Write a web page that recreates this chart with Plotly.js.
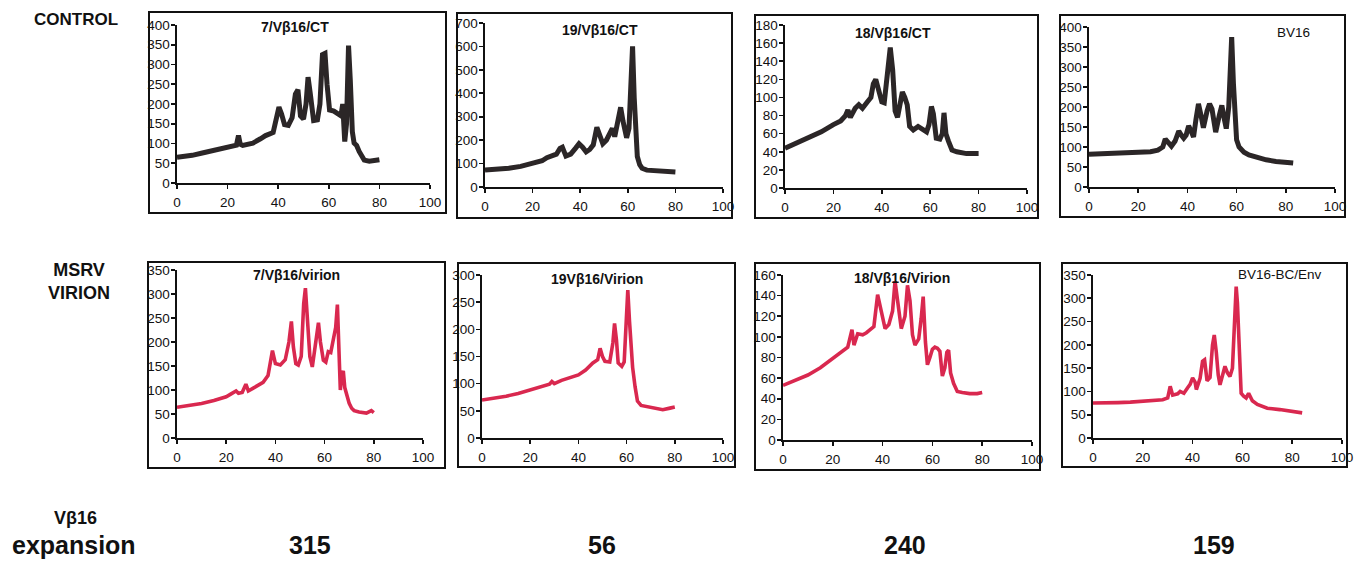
<!DOCTYPE html>
<html><head><meta charset="utf-8">
<script src="https://cdn.plot.ly/plotly-3.0.1.min.js"></script>
<style>html,body{margin:0;padding:0;background:#fff}#chart{width:1356px;height:562px}</style>
</head><body><div id="chart"></div>
<script>
// ---- Data ----
const ct7X = [0,3,6,10,14,18,20,22,23.5,24.3,25,26,28,30,33,35,38,39.3,40.3,41.3,42.5,44,45.5,46.8,47.8,48.8,50,51,51.8,52.6,54,55.5,56.5,57.5,58.5,59.3,60.3,62,63.5,64.8,65.5,66.3,67,67.8,68.5,69.3,70,71,72,73,74,76,78,80];
const ct7Y = [65,67,70,76,82,88,92,93,96,120,98,95,97,101,112,120,128,160,192,175,148,146,165,225,236,170,162,200,268,230,158,160,200,325,328,250,185,182,176,170,200,105,150,348,260,130,101,95,80,65,58,55,57,59];

const ct19X = [0,5,10,15,20,24,26,28,30,31.5,32.5,34,36,38,39.5,41,42.5,44,45.5,47,48,49.5,51,52.5,53.5,54.5,56,57,58,59.5,60.5,61.3,62,62.7,63.3,64,65,66,68,70,75,80];
const ct19Y = [72,74,80,88,100,112,125,130,140,165,170,132,140,165,185,170,150,160,180,255,230,185,200,225,250,215,290,340,280,210,250,520,600,380,240,130,95,80,72,70,65,64];

const ct18X = [0,5,10,15,20,23,25,26,27,29,30.5,32,34,35.5,36.5,37.5,38.5,40,41,42.5,43.5,44.5,45.5,46.5,47.5,48.5,49.5,50.5,51.5,53,55,57,58.5,59.5,60.5,61.3,62.5,64,65,65.7,66.5,67.5,69,71,75,80];
const ct18Y = [44,50,55,62,70,74,80,86,78,88,92,88,95,100,115,120,110,95,94,125,155,130,85,78,95,106,100,92,68,64,68,64,62,70,90,82,55,54,60,83,60,52,42,40,38,38];

const ctBVX = [0,5,10,15,20,25,28,30,31,32,33.5,35,36.5,37.5,38.5,39.5,40.5,41.5,42.5,43.5,44.5,45.5,46.5,48,49,50,51.5,53,54,55,55.8,56.8,57.5,58,58.7,59.3,60,61,63,65,68,72,76,80,83];
const ctBVY = [82,83,83,84,84,88,92,100,120,112,102,115,140,130,122,130,153,140,125,170,208,180,148,190,208,195,137,180,204,170,146,200,300,375,260,190,118,100,87,80,74,68,64,62,60];

const vi7X = [0,5,10,15,20,22,24,25,26.5,28,29,31,33,35,37,38,38.8,40,42,44,45.5,46.5,47.3,48.3,49.3,50.5,51.5,52.2,53,54,55,56.5,57.5,58.3,59.5,60.5,61.5,62.5,63.5,64.5,65.2,65.8,66.4,67,67.6,68.2,68.8,70,71,72,74,77,79,80];
const vi7Y = [64,68,72,78,86,92,98,93,95,112,98,104,110,116,130,165,182,155,152,163,200,243,190,155,152,170,280,312,240,170,148,205,240,200,162,158,180,178,200,230,278,200,100,130,140,105,95,72,62,57,54,52,57,53];

const vi19X = [0,5,10,15,20,25,28,29,30,33,36,40,43,46,48,49,50,51,53,54.3,55,55.8,56.5,58,59,59.8,60.5,61.2,61.8,62.5,63.5,64.5,66,70,75,78,80];
const vi19Y = [70,73,77,82,89,95,99,104,100,106,110,116,125,138,144,165,150,141,140,175,211,180,138,132,140,210,272,215,160,130,95,68,60,57,52,55,57];

const vi18X = [0,5,10,15,20,24,26,27,27.7,28.5,30,32,33.5,35,36.5,38,39.5,41,42.5,44,45,46,47.5,49,50,51,52,53,54.5,55.5,56.3,57.2,58,59,60,61,62,63,64,65,65.8,66.5,67.3,68.5,70,72,75,78,80];
const vi18Y = [53,58,63,70,79,87,90,100,107,92,103,102,104,107,110,141,125,108,112,125,154,135,108,120,150,135,102,92,98,118,139,95,73,80,88,90,89,86,62,70,85,87,65,55,47,46,45,45,46];

const viBVX = [0,5,10,15,20,25,28,30,31,32,34,35,36.5,38,39,40,41,41.5,43,44,44.8,45.8,47,48,48.7,49.5,50.3,51,52,53,54,55,56,57,57.5,58,58.7,59.5,60.5,61.5,62.5,64,66,70,75,80,84];
const viBVY = [75,75,76,77,79,80,82,86,111,92,95,100,96,108,115,129,120,104,128,165,168,123,130,200,221,185,135,114,138,154,140,132,150,250,325,290,200,96,90,86,96,80,72,64,61,57,54];

const panelTitles = ["7/Vβ16/CT","19/Vβ16/CT","18/Vβ16/CT","BV16","7/Vβ16/virion","19Vβ16/Virion","18/Vβ16/Virion","BV16-BC/Env"];
const titleBold = [true,true,true,false,true,true,true,false];
const yMax = [400,700,180,400,350,300,160,350];
const yStep = [50,100,20,50,50,50,20,50];
const expansionValues = ["315","56","240","159"];

// ---- Layout geometry (pixels) ----
const W = 1356, H = 562;
// plot areas: [left, right, top, bottom]
const areas = [
  [177,430,25,183],[485,723,23,187],[785,1027,25,188],[1089,1335,27,187],
  [177,423,270,438],[482,723,275,438],[783,1032,275,440],[1093,1342,275,438]
];
// outer boxes: [left, right, top, bottom]
const boxes = [
  [149,446,12,213],[457,732,13,218],[755,1038,15,218],[1060,1345,15,217],
  [148,445,262,468],[458,735,263,467],[755,1040,263,470],[1062,1347,263,467]
];
const titlePos = [[295,27],[600,30],[893,33],[1293,32],[296,275],[597,279],[902,278],[1280,275]];

const xs = [ct7X,ct19X,ct18X,ctBVX,vi7X,vi19X,vi18X,viBVX];
const ys = [ct7Y,ct19Y,ct18Y,ctBVY,vi7Y,vi19Y,vi18Y,viBVY];

const BLACK = '#2b2627', RED = '#d9284f';
const FONT = 'Liberation Sans, Arial, sans-serif';
const fx = p => p / W, fy = p => 1 - p / H;

const traces = [], layout = {
  width: W, height: H, margin: {l:0,r:0,t:0,b:0},
  paper_bgcolor: '#fff', plot_bgcolor: 'rgba(0,0,0,0)', showlegend: false,
  font: {family: FONT, color: '#111'},
  shapes: [], annotations: []
};

for (let i = 0; i < 8; i++) {
  const n = i === 0 ? '' : String(i + 1);
  traces.push({
    x: xs[i], y: ys[i], type: 'scatter', mode: 'lines',
    xaxis: 'x' + n, yaxis: 'y' + n,
    line: {color: i < 4 ? BLACK : RED, width: i < 4 ? 5 : 3.6, shape: 'linear'},
    hoverinfo: 'skip'
  });
  const a = areas[i];
  const axCommon = {
    showline: true, linecolor: '#111', linewidth: 1.6, showgrid: false, zeroline: false,
    ticks: 'outside', ticklen: 4, tickwidth: 1.6, tickcolor: '#111',
    tickfont: {size: 13.5, family: FONT, color: '#111'}
  };
  layout['xaxis' + n] = Object.assign({}, axCommon, {
    domain: [fx(a[0]), fx(a[1])], range: [0, 100], dtick: 20, tick0: 0,
    anchor: 'y' + n, fixedrange: true, ticklabelstandoff: 2
  });
  layout['yaxis' + n] = Object.assign({}, axCommon, {
    domain: [fy(a[3]), fy(a[2])], range: [0, yMax[i]], dtick: yStep[i], tick0: 0,
    anchor: 'x' + n, fixedrange: true, ticklabelstandoff: -1
  });
  const b = boxes[i];
  layout.shapes.push({type: 'rect', xref: 'paper', yref: 'paper',
    x0: fx(b[0]), x1: fx(b[1]), y0: fy(b[3]), y1: fy(b[2]),
    line: {color: '#111', width: 2}, fillcolor: 'rgba(0,0,0,0)'});
  layout.annotations.push({xref: 'paper', yref: 'paper', x: fx(titlePos[i][0]), y: fy(titlePos[i][1]),
    xanchor: 'center', yanchor: 'middle', showarrow: false,
    text: titleBold[i] ? '<b>' + panelTitles[i] + '</b>' : panelTitles[i],
    font: {size: titleBold[i] ? 14 : 13.5, color: '#111', family: FONT}});
}

// row and footer labels
const lbl = (text, x, y, size) => layout.annotations.push({xref:'paper', yref:'paper',
  x: fx(x), y: fy(y), xanchor: 'center', yanchor: 'middle', showarrow: false,
  text: text, font: {size: size, color: '#111', family: FONT}});
lbl('<b>CONTROL</b>', 76, 19, 17);
lbl('<b>MSRV</b><br><b>VIRION</b>', 79, 281, 18);
lbl('<b>Vβ16</b>', 75, 518, 18);
lbl('<b>expansion</b>', 74, 545, 25);
const numX = [310, 602, 905, 1214];
expansionValues.forEach((v, k) => lbl('<b>' + v + '</b>', numX[k], 545, 25));

Plotly.newPlot('chart', traces, layout, {staticPlot: true});
</script></body></html>
